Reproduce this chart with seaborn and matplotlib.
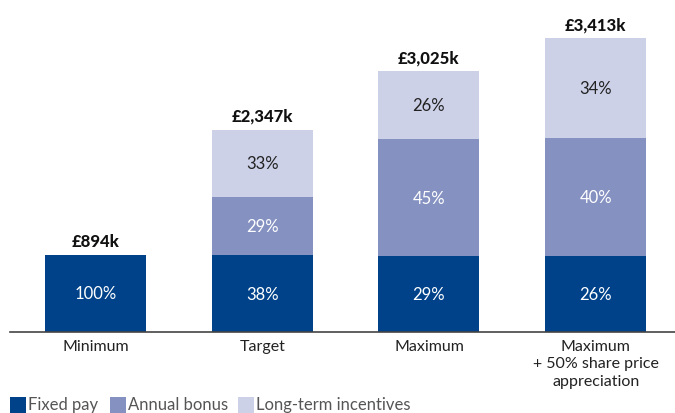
import numpy as np
import pandas as pd
import matplotlib
matplotlib.use("Agg")
import matplotlib.pyplot as plt
from matplotlib.patches import Rectangle
import seaborn as sns

# Remuneration scenarios (£k) and the split of each total
scenarios = ["Minimum", "Target", "Maximum", "Maximum\n+ 50% share price\nappreciation"]
totals = [894, 2347, 3025, 3413]
fixed_pct = [100, 38, 29, 26]
bonus_pct = [0, 29, 45, 40]
lti_pct = [0, 33, 26, 34]

components = ["Fixed pay", "Annual bonus", "Long-term incentives"]
colors = ["#00428A", "#8591C1", "#CDD1E7"]
text_colors = ["white", "white", "#222222"]

sns.set_theme(style="white")
plt.rcParams["font.family"] = ["Lato", "DejaVu Sans"]

fig = plt.figure(figsize=(6.75, 4.14), dpi=100)
ax = fig.add_axes([10 / 675, 81 / 414, 665 / 675, 333 / 414])

pcts = [fixed_pct, bonus_pct, lti_pct]
bottom = np.zeros(len(scenarios))
for comp, pct, col, tcol in zip(components, pcts, colors, text_colors):
    vals = np.array(pct) / 100.0 * np.array(totals)
    df = pd.DataFrame({"scenario": scenarios, "value": vals})
    sns.barplot(data=df, x="scenario", y="value", color=col, width=0.606,
                bottom=bottom, ax=ax, saturation=1, edgecolor="none",
                linewidth=0)
    for i, (v, p) in enumerate(zip(vals, pct)):
        if p > 0:
            ax.text(i, bottom[i] + v / 2, f"{p}%", ha="center", va="center",
                    color=tcol, fontsize=12)
    bottom = bottom + vals

for i, t in enumerate(totals):
    ax.text(i, t + 70, f"£{t:,}k", ha="center", va="bottom",
            fontsize=12, fontweight="black", color="#111111")

ax.set_xlim(-0.513, 3.476)
ax.set_ylim(0, 3866)
ax.set_xlabel("")
ax.set_ylabel("")
ax.set_yticks([])
for s in ["top", "right", "left"]:
    ax.spines[s].set_visible(False)
ax.spines["bottom"].set_color("#444444")
ax.spines["bottom"].set_linewidth(1.2)
ax.tick_params(axis="x", length=0, pad=5, labelsize=11.5, labelcolor="#222222")
for lbl in ax.get_xticklabels():
    lbl.set_linespacing(1.3)

# Legend along the bottom edge
legend_items = [(10, 28), (110, 128), (238, 256)]
for (sx, tx), comp, col in zip(legend_items, components, colors):
    fig.patches.append(Rectangle((sx / 675, 0), 16 / 675, 16 / 414,
                                 transform=fig.transFigure, facecolor=col,
                                 edgecolor="none"))
    fig.text(tx / 675, 1 / 414, comp, ha="left", va="bottom",
             fontsize=12, color="#555555")

fig.savefig("out.png", dpi=100)
